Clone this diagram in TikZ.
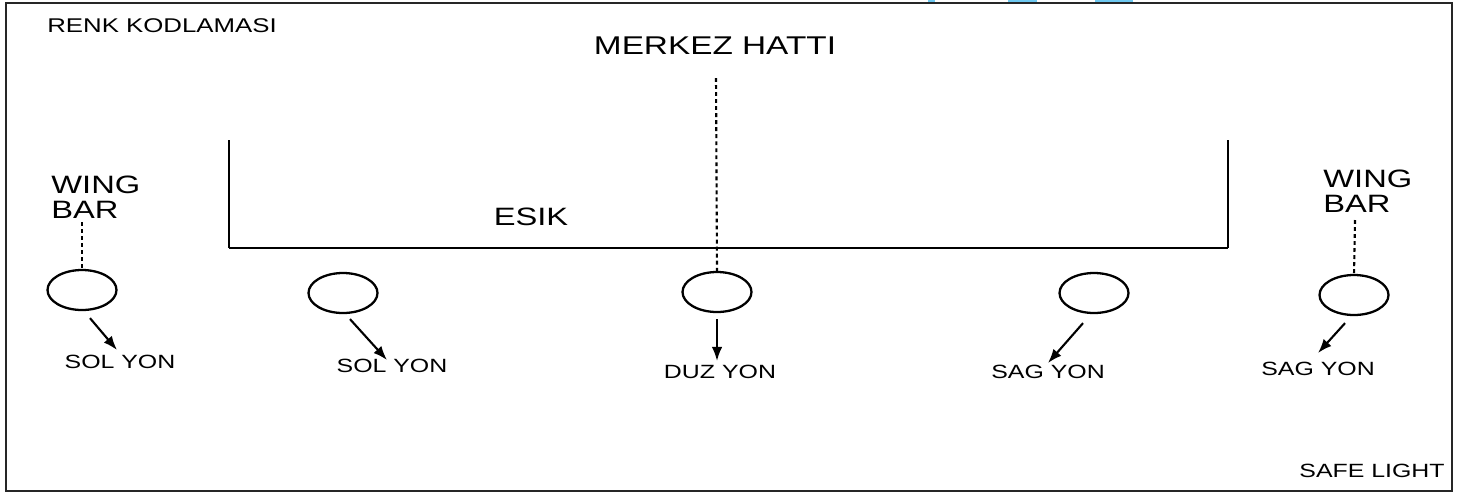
\documentclass[tikz,border=0pt]{standalone}
\usepackage{fontspec}
\setmainfont{Liberation Sans}[FakeStretch=1.3]
\usetikzlibrary{arrows.meta,shapes.geometric}
\definecolor{linkblue}{RGB}{110,200,240}

\tikzset{
  lamp/.style={draw,ellipse,line width=1.3pt,minimum width=1.38cm,minimum height=0.8cm,inner sep=0pt},
  yon/.style={font=\fontsize{10.9}{12}\selectfont,inner sep=0pt},
  big/.style={font=\fontsize{14.3}{14.5}\selectfont,inner sep=0pt},
  dir/.style={line width=1.2pt,-{Latex[length=8pt,width=6pt]}},
  bar/.style={line width=1.2pt,dash pattern=on 2.2pt off 1.8pt}
}

\begin{document}
\begin{tikzpicture}[x=0.02cm,y=-0.02cm]
\useasboundingbox (0,0) rectangle (1462,495);
\draw[line width=1.4pt,black!85] (6,3) rectangle (1452,491);
\fill[linkblue] (928,0) rectangle (935,1.5);
\fill[linkblue] (1008,0) rectangle (1037,1.5);
\fill[linkblue] (1095,0) rectangle (1133,1.5);

\node[yon,font=\fontsize{11.3}{13}\selectfont,anchor=west] (renk) at (47,26) {RENK KODLAMASI};
\node[big,font=\fontsize{14.6}{15}\selectfont] (merkez) at (715,46) {MERKEZ HATTI};
\node[big] (esik) at (531,217) {ESIK};
\node[big,align=left,anchor=west] (wingL) at (51,197) {WING\\BAR};
\node[big,align=left,anchor=west] (wingR) at (1323,191) {WING\\BAR};
\node[yon] (safe) at (1372,471) {SAFE LIGHT};

% esik
\draw[line width=1.6pt] (229,140) -- (229,248);
\draw[line width=1.6pt] (1228,140) -- (1228,248);
\draw[line width=1.1pt] (229,248) -- (1228,248);

\foreach \n/\x/\y in {1/82/290,2/343/293,3/717/292,4/1094/293,5/1354/295}
	\node[lamp] (l\n) at (\x,\y) {};

\node[yon] (y1) at (120,362) {SOL YON};
\node[yon] (y2) at (392,366) {SOL YON};
\node[yon] (y3) at (720,372) {DUZ YON};
\node[yon] (y4) at (1048,372) {SAG YON};
\node[yon] (y5) at (1318,369) {SAG YON};

\coordinate (a1) at (117,350);
\coordinate (a2) at (387,360);
\coordinate (a3) at (717,361);
\coordinate (a4) at (1048,363);
\coordinate (a5) at (1318,353);
\draw[dir] ([shift={(8,7)}]l1.south) -- (a1);
\draw[dir] ([shift={(7,5)}]l2.south) -- (a2);
\draw[dir] ([shift={(0,6)}]l3.south) -- (a3);
\draw[dir] ([shift={(-11,9)}]l4.south) -- (a4);
\draw[dir] ([shift={(-9,7)}]l5.south) -- (a5);

\coordinate (c0) at (716,78);
\coordinate (w1) at (82,222);
\coordinate (w2) at (1355,220);
\draw[bar] (c0) -- (l3.north);
\draw[bar] (w1) -- (l1.north);
\draw[bar] (w2) -- (l5.north);
\end{tikzpicture}
\end{document}
